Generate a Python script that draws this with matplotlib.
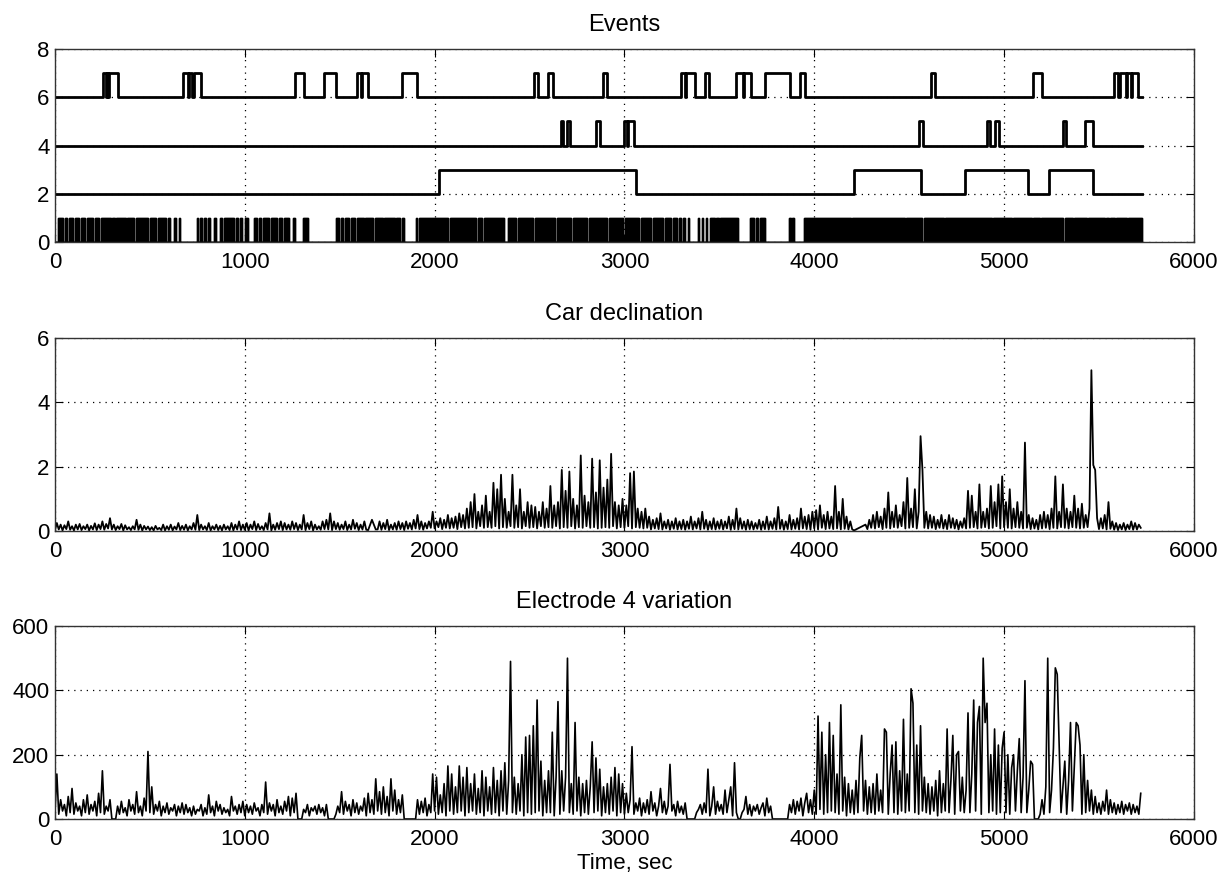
import numpy as np
import matplotlib
matplotlib.use('Agg')
import matplotlib.pyplot as plt

plt.rcParams['font.family'] = ['Liberation Sans', 'DejaVu Sans']

# -------------------------------
# data
# -------------------------------
t_end = 5724

# event channel at 6 (pulses up to 7)
ev6_on  = [253, 275, 287, 674, 706, 735, 1266, 1416, 1590, 1618, 1830, 2525, 2600, 2887,
           3297, 3325, 3423, 3590, 3630, 3743, 3925, 4615, 5153, 5577, 5610, 5648, 5675]
ev6_off = [270, 282, 330, 700, 720, 770, 1310, 1480, 1612, 1648, 1905, 2545, 2622, 2910,
           3320, 3372, 3445, 3625, 3667, 3870, 3950, 4636, 5200, 5600, 5640, 5668, 5703]
# event channel at 4
ev4_on  = [2667, 2700, 2851, 3000, 3018, 4552, 4908, 4950, 5310, 5425]
ev4_off = [2677, 2712, 2870, 3012, 3050, 4572, 4925, 4975, 5328, 5470]
# event channel at 2
ev2_on  = [2021, 4207, 4793, 5236]
ev2_off = [3060, 4563, 5128, 5468]
# bottom 0/1 channel, intervals where it is on
bar_on  = [17, 52, 73, 105, 136, 167, 209, 241, 303, 324, 381, 429, 502, 544, 596, 628, 653,
           747, 764, 785, 805, 837, 868, 893, 952, 973, 1000, 1046, 1077, 1098, 1140, 1182,
           1209, 1255, 1308, 1481, 1506, 1527, 1559, 1590, 1636, 1684, 1736, 1799, 1830,
           1900, 1920, 2082, 2228, 2259, 2385, 2437, 2531, 2646, 2730, 2814, 2918, 3004,
           3088, 3151, 3213, 3255, 3287, 3308, 3333, 3387, 3408, 3429, 3450, 3481, 3506,
           3663, 3695, 3715, 3868, 3885, 3946, 4200, 4482, 4576, 4691, 4942, 5047, 5151,
           5193, 5319, 5371, 5444, 5538, 5559, 5591, 5654]
bar_off = [42, 63, 94, 126, 157, 199, 230, 297, 314, 372, 418, 492, 533, 586, 607, 638, 661,
           753, 774, 795, 816, 847, 879, 941, 962, 987, 1015, 1067, 1088, 1130, 1172, 1197,
           1234, 1266, 1335, 1496, 1517, 1548, 1579, 1628, 1674, 1726, 1789, 1820, 1841,
           1908, 2071, 2218, 2249, 2364, 2427, 2521, 2636, 2720, 2803, 2908, 2994, 3077,
           3140, 3203, 3245, 3276, 3297, 3318, 3339, 3395, 3416, 3437, 3475, 3496, 3600,
           3684, 3705, 3743, 3877, 3893, 4193, 4476, 4570, 4685, 4936, 5041, 5145, 5187,
           5313, 5365, 5438, 5532, 5553, 5585, 5648, 5724]

nan = np.nan
# car declination, one value every 10 s
car_decl = [
    .03, .25, .05, .2, .02, .18, .06, .3, .04, .15,
    .02, .2, .05, .22, .03, .15, .06, .2, .02, .16,
    .05, .24, .03, .2, .06, .3, .04, .22, .08, .4,
    .05, .2, .03, .15, .06, .22, .02, .18, .05, .12,
    .03, .15, .05, .35, .04, .2, .02, .16, .05, .14,
    .03, .12, .02, .16, .05, .1, .03, .2, .02, .15,
    .04, .2, .02, .14, .05, .25, .03, .16, .04, .2,
    .02, .15, .05, .25, .04, .5, .03, .2, .05, .15,
    .03, .25, .02, .15, .05, .2, .03, .16, .02, .2,
    .05, .15, .03, .25, .02, .2, .05, .3, .03, .2,
    .04, .25, .02, .2, .06, .3, .03, .22, .05, .15,
    .03, .25, .05, .55, .02, .2, .04, .25, .06, .3,
    .03, .25, .05, .2, .04, .3, .06, .25, .03, .2,
    .05, .5, .03, .25, .06, .3, .02, .2, .05, .15,
    .04, .3, .06, .35, .05, .55, .03, .3, .06, .25,
    .04, .2, .06, .3, .03, .2, .05, .35, .07, .25,
    .03, .2, .05, .3, .04, .03, nan, .35, nan, .05,
    .05, .3, .04, .25, .06, .35, .03, .2, .05, .25,
    .04, .3, .06, .25, .03, .3, .07, .25, .05, .35,
    .08, .5, .06, .3, .04, .25, .08, .3, .1, .6,
    .08, .3, .12, .4, .06, .35, .1, .5, .08, .4,
    .1, .45, .06, .55, .12, .5, .08, .7, .1, .9,
    .12, 1.15, .08, .6, .15, .8, .1, 1.1, .12, .6,
    .1, 1.5, .15, 1.3, .08, 1.75, .12, 1.0, .1, .6,
    .15, 1.75, .1, .8, .12, 1.3, .08, .6, .15, .9,
    .1, .8, .12, .75, .08, .6, .15, .9, .1, .7,
    .12, 1.4, .1, .8, .15, .9, .08, 1.9, .12, 1.25,
    .1, 1.85, .15, 1.0, .08, .8, .12, 2.35, .1, 1.1,
    .15, .9, .1, 2.25, .12, 1.2, .08, 2.2, .1, 1.35,
    .12, 1.6, .1, 2.4, .15, .9, .08, .8, .12, 1.0,
    .1, .8, .15, 1.8, .08, 1.85, .12, .7, .1, .6,
    .08, .7, .1, .45, .05, .35, .08, .4, .06, .55,
    .05, .3, .08, .35, .04, .3, .07, .4, .05, .3,
    .06, .35, .04, .3, .07, .45, .05, .3, .08, .4,
    .05, .6, .07, .35, .04, .3, .06, .4, .05, .3,
    .07, .35, .05, .3, .08, .45, .04, .35, .06, .7,
    .05, .4, .07, .3, .04, .35, .06, .3, .05, .25,
    .07, .35, .04, .3, .06, .45, .05, .3, .07, .4,
    .05, .75, .07, .35, .04, .3, .06, .5, .05, .35,
    .07, .4, .05, .7, .08, .45, .06, .5, .04, .6,
    .08, .65, .05, .8, .1, .5, .06, .6, .08, .45,
    .06, 1.4, .08, .6, .05, 1.0, .07, .45, .05, .3,
    .05, .02, nan, nan, nan, nan, nan, .2, .06, .35,
    .1, .5, .08, .6, .12, .45, .06, .7, .1, 1.2,
    .08, .6, .12, .8, .1, .5, .15, .9, .08, 1.65,
    .1, .7, .12, 1.3, .08, .6, 2.95, 1.9, .1, .6,
    .08, .5, .1, .45, .06, .35, .1, .5, .08, .35,
    .06, .5, .1, .4, .08, .35, .05, .3, .1, .4,
    .08, 1.25, .1, 1.1, .12, .6, .08, 1.45, .1, .6,
    .12, .7, .08, 1.4, .1, .9, .15, 1.45, .08, 1.7,
    .12, .9, .1, 1.3, .08, .7, .12, .9, .1, .6,
    .08, 2.75, .1, .5, .06, .4, .08, .35, .05, .5,
    .08, .6, .1, .5, .06, .7, .1, 1.7, .08, .6,
    .12, 1.45, .1, .7, .08, .6, .12, 1.1, .1, .7,
    .08, .85, .1, .5, .12, .7, 5.0, 2.05, 1.9, .4,
    .06, .4, .08, .5, .05, .9, .07, .3, .04, .25,
    .03, .2, .05, .25, .03, .2, .06, .3, .04, .25,
    .05, .2, .1,
]

# electrode 4 variation, one value every 10 s (0 where the recording drops out)
electrode = [
    20, 140, 15, 60, 25, 45, 10, 70, 20, 95,
    15, 50, 25, 40, 10, 60, 20, 75, 15, 45,
    25, 55, 10, 80, 20, 150, 15, 40, 25, 60,
    0, 0, 0, 40, 15, 55, 20, 35, 10, 60,
    25, 45, 15, 85, 20, 40, 10, 65, 25, 210,
    20, 100, 15, 45, 25, 55, 10, 40, 20, 50,
    15, 35, 25, 45, 10, 40, 20, 50, 15, 45,
    20, 35, 10, 40, 15, 30, 25, 45, 10, 35,
    15, 75, 20, 40, 10, 55, 25, 45, 15, 35,
    20, 30, 10, 70, 25, 40, 15, 45, 20, 55,
    10, 45, 20, 40, 15, 50, 25, 35, 10, 45,
    20, 115, 15, 50, 25, 45, 10, 60, 20, 40,
    15, 55, 25, 70, 10, 65, 20, 80, 0, 0,
    0, 30, 20, 45, 10, 35, 25, 40, 15, 45,
    20, 35, 10, 45, 0, 0, 0, 0, 15, 40,
    20, 85, 15, 55, 25, 45, 10, 60, 20, 50,
    15, 40, 25, 65, 10, 80, 20, 60, 15, 125,
    25, 85, 15, 100, 20, 70, 10, 125, 25, 90,
    15, 60, 20, 75, 0, 0, 0, 0, 0, 0,
    0, 60, 15, 55, 20, 65, 10, 45, 20, 140,
    25, 130, 15, 75, 20, 110, 10, 165, 25, 140,
    15, 100, 20, 165, 25, 130, 10, 160, 20, 110,
    25, 140, 15, 95, 20, 150, 10, 130, 25, 100,
    15, 160, 20, 120, 10, 150, 25, 175, 15, 120,
    490, 20, 130, 15, 110, 25, 200, 10, 255, 20,
    260, 15, 290, 20, 370, 25, 180, 10, 120, 20,
    150, 20, 270, 10, 130, 365, 15, 150, 25, 130,
    500, 20, 110, 15, 300, 25, 130, 10, 110, 20,
    120, 15, 100, 240, 20, 190, 25, 155, 10, 100,
    20, 110, 15, 130, 25, 160, 10, 140, 20, 110,
    15, 80, 20, 60, 225, 15, 50, 25, 65, 10,
    50, 20, 60, 15, 85, 25, 50, 10, 40, 95,
    20, 55, 15, 40, 170, 25, 45, 10, 55, 20,
    40, 15, 50, 0, 0, 0, 0, 0, 20, 30,
    45, 15, 50, 20, 155, 10, 40, 100, 15, 55,
    25, 45, 15, 90, 20, 60, 100, 10, 175, 20,
    0, 0, 20, 30, 70, 15, 45, 10, 40, 25,
    45, 15, 35, 50, 10, 65, 20, 40, 0, 0,
    0, 0, 0, 0, 0, 0, 0, 45, 20, 60,
    15, 55, 25, 65, 10, 50, 80, 20, 60, 15,
    90, 15, 320, 30, 270, 15, 200, 20, 300, 25,
    260, 20, 140, 15, 355, 25, 130, 10, 110, 20,
    90, 15, 120, 20, 190, 260, 25, 120, 15, 100,
    20, 110, 15, 140, 25, 90, 20, 280, 270, 15,
    140, 230, 20, 240, 15, 150, 25, 310, 20, 140,
    25, 405, 360, 20, 230, 15, 290, 25, 130, 20,
    110, 15, 100, 25, 120, 10, 150, 20, 110, 25,
    280, 20, 120, 260, 15, 200, 210, 25, 130, 20,
    90, 330, 20, 140, 370, 25, 300, 350, 15, 500,
    300, 360, 20, 200, 25, 280, 15, 230, 20, 220,
    270, 20, 200, 15, 160, 200, 25, 150, 250, 20,
    130, 430, 20, 90, 180, 170, 0, 0, 0, 15,
    60, 15, 100, 500, 20, 90, 220, 470, 450, 240,
    20, 100, 180, 15, 120, 300, 25, 160, 300, 290,
    230, 15, 200, 20, 120, 25, 90, 15, 70, 20,
    50, 15, 55, 25, 90, 15, 60, 20, 50, 15,
    45, 20, 55, 15, 45, 25, 50, 15, 45, 20,
    40, 15, 80,
]

x_ticks = [0, 1000, 2000, 3000, 4000, 5000, 6000]


# -------------------------------
# helpers
# -------------------------------
def pulse_line(base, on, off):
    """square wave at level base, stepping to base+1 between on/off times"""
    xs, ys = [0], [base]
    for a, b in zip(on, off):
        xs += [a, a, b, b]
        ys += [base, base + 1, base + 1, base]
    xs.append(t_end)
    ys.append(base)
    return xs, ys


def style(ax, yticks):
    ax.set_xlim(0, 6000)
    ax.set_ylim(yticks[0], yticks[-1])
    ax.set_xticks(x_ticks)
    ax.set_yticks(yticks)
    ax.set_axisbelow(True)
    ax.grid(True, linestyle=(0, (1, 4)), color='k', linewidth=0.9)
    ax.tick_params(direction='in', top=True, right=True, length=6,
                   labelsize=16, width=0.8)
    ax.tick_params(axis='x', pad=7)
    ax.tick_params(axis='y', pad=4)
    for s in ax.spines.values():
        s.set_color('#333333')
        s.set_linewidth(1.0)


fig = plt.figure(figsize=(12.21, 8.74), dpi=100)
L, W, H = 0.045, 0.9328, 0.2208
ax1 = fig.add_axes([L, 0.7231, W, H])
ax2 = fig.add_axes([L, 0.3924, W, H])
ax3 = fig.add_axes([L, 0.0629, W, H])

# Events
for base, on, off in [(6, ev6_on, ev6_off), (4, ev4_on, ev4_off), (2, ev2_on, ev2_off)]:
    xs, ys = pulse_line(base, on, off)
    ax1.plot(xs, ys, color='k', linewidth=2.0)
xs, ys = pulse_line(0, bar_on, bar_off)
ax1.fill(xs, ys, color='k', linewidth=1.0)
ax1.plot(xs, ys, color='k', linewidth=1.0)
style(ax1, [0, 2, 4, 6, 8])
ax1.set_title('Events', fontsize=17, pad=13)

# Car declination
cd = np.array(car_decl, dtype=float)
t_cd = np.arange(len(cd)) * 10
ok = ~np.isnan(cd)
ax2.plot(t_cd[ok], cd[ok], color='k', linewidth=1.3)
style(ax2, [0, 2, 4, 6])
ax2.set_title('Car declination', fontsize=17, pad=13)

# Electrode 4 variation
el = np.array(electrode, dtype=float)
t_el = np.arange(len(el)) * 10
ax3.plot(t_el, el, color='k', linewidth=1.2)
style(ax3, [0, 200, 400, 600])
ax3.set_title('Electrode 4 variation', fontsize=17, pad=13)
ax3.set_xlabel('Time, sec', fontsize=16, labelpad=2)

plt.savefig('out.png', dpi=100)
